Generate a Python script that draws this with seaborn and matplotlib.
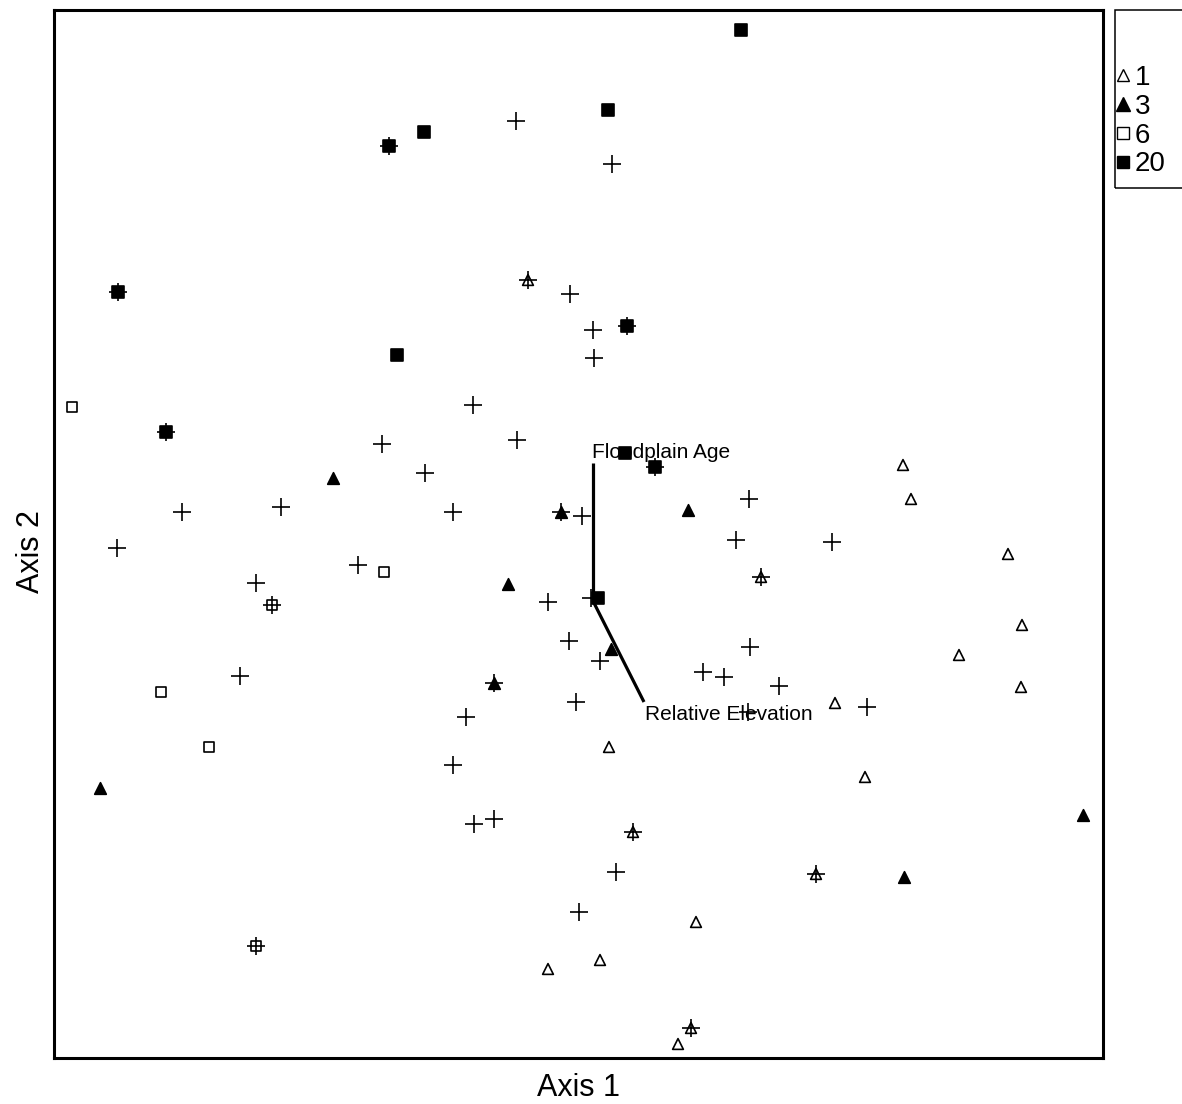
import matplotlib
matplotlib.use("Agg")
import matplotlib.pyplot as plt
from matplotlib.lines import Line2D
from matplotlib.patches import Rectangle
import seaborn as sns
import pandas as pd

# Site scores on the two ordination axes, by group
g1_x = [474, 707, 849, 857, 954, 968, 905, 967, 781, 811, 555, 579, 762, 642, 494, 546, 637, 624]
g1_y = [778, 481, 593, 559, 504, 433, 403, 371, 355, 281, 311, 226, 184, 136, 89, 98, 30, 14]

g3_x = [279, 507, 634, 454, 557, 440, 46, 1029, 850]
g3_y = [580, 546, 548, 474, 409, 375, 270, 243, 181]

g6_x = [18, 330, 107, 155, 218, 202]
g6_y = [651, 486, 366, 311, 453, 112]

g20_x = [687, 554, 370, 335, 64, 573, 343, 112, 571, 601, 544]
g20_y = [1028, 948, 926, 912, 766, 732, 703, 626, 605, 591, 460]

# Species scores
sp_x = [462, 558, 474, 516, 539, 540, 419, 328, 463, 371, 399, 128, 227, 63, 528, 507,
        695, 682, 778, 707, 202, 304, 494, 537, 515, 546, 696, 649, 670, 725, 813, 694,
        186, 440, 522, 412, 399, 420, 440, 579, 562, 762, 525, 637, 218, 202, 335, 64,
        573, 112, 601]
sp_y = [937, 894, 778, 764, 728, 700, 653, 614, 618, 585, 546, 546, 551, 510, 542, 546,
        559, 518, 516, 481, 475, 493, 456, 460, 417, 397, 411, 386, 381, 372, 351, 346,
        382, 375, 356, 341, 293, 234, 239, 226, 186, 184, 146, 30, 453, 112, 912, 766,
        732, 626, 591]

# Environmental vectors (biplot)
vec_origin = (539, 457)
vec_names = ["Floodplain Age", "Relative Elevation"]
vec_tip_x = [539, 590]
vec_tip_y = [595, 356]
vec_label_x = [538, 591]
vec_label_y = [606, 343]

group_labels = ["1", "3", "6", "20"]

sns.set_theme(style="white")
plt.rcParams["font.family"] = ["Liberation Sans", "DejaVu Sans"]
plt.rcParams["text.color"] = "black"
plt.rcParams["axes.labelcolor"] = "black"

fig = plt.figure(figsize=(11.82, 11.04), dpi=100)
ax = fig.add_axes([54 / 1182, 46 / 1104, 1049 / 1182, 1048 / 1104])

groups = [
    (g1_x, g1_y, "^", True, 60),
    (g3_x, g3_y, "^", False, 70),
    (g6_x, g6_y, "s", True, 55),
    (g20_x, g20_y, "s", False, 75),
]
for gx, gy, mk, hollow, size in groups:
    df = pd.DataFrame({"x": gx, "y": gy})
    sns.scatterplot(data=df, x="x", y="y", marker=mk, s=size, color="black",
                    edgecolor="black", linewidth=1.2, ax=ax, zorder=3, legend=False)
    if hollow:
        ax.collections[-1].set_facecolor("none")

sp = pd.DataFrame({"x": sp_x, "y": sp_y})
sns.scatterplot(data=sp, x="x", y="y", marker="+", s=150, color="black",
                linewidth=1.2, ax=ax, zorder=4, legend=False)

# Vectors and their labels
for tx, ty in zip(vec_tip_x, vec_tip_y):
    ax.plot([vec_origin[0], tx], [vec_origin[1], ty], color="black", lw=2.3,
            zorder=2, solid_capstyle="butt")
for name, lx, ly in zip(vec_names, vec_label_x, vec_label_y):
    ax.text(lx, ly, name, ha="left", va="center", fontsize=15, color="black", zorder=1)

ax.set_xlim(0, 1049)
ax.set_ylim(0, 1048)
ax.set_xticks([])
ax.set_yticks([])
for s in ax.spines.values():
    s.set_visible(True)
    s.set_color("black")
    s.set_linewidth(2.2)
ax.set_xlabel("Axis 1", fontsize=22, labelpad=11)
ax.set_ylabel("Axis 2", fontsize=22)
ax.yaxis.set_label_coords(-0.022, 0.483, transform=ax.transAxes)
ax.yaxis.label.set_va("center")

# Legend
handles = [
    Line2D([], [], ls="none", marker="^", ms=8.5, mfc="white", mec="black", mew=1.0),
    Line2D([], [], ls="none", marker="^", ms=9.5, mfc="black", mec="black", mew=1.0),
    Line2D([], [], ls="none", marker="s", ms=8, mfc="white", mec="black", mew=1.0),
    Line2D([], [], ls="none", marker="s", ms=9, mfc="black", mec="black", mew=1.0),
]
fig.legend(handles, group_labels, loc="upper left",
           bbox_to_anchor=(1117 / 1182, 1 - 65 / 1104), frameon=False,
           fontsize=20, borderpad=0, borderaxespad=0, handlelength=0.45,
           handletextpad=0.2, labelspacing=0.1)
fig.patches.append(Rectangle((1115 / 1182, (1104 - 188) / 1104), 80 / 1182, 178 / 1104,
                             transform=fig.transFigure, fill=False, lw=1.1,
                             edgecolor="black", clip_on=False))

fig.savefig("out.png", dpi=100, facecolor="white")
